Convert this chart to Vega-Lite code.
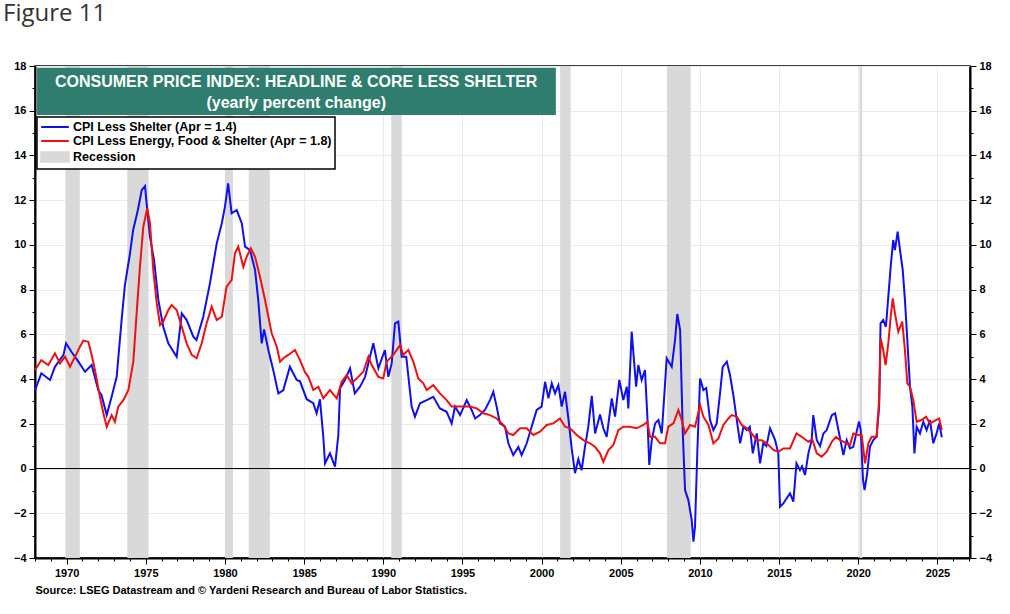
{
  "$schema": "https://vega.github.io/schema/vega-lite/v6.json",
  "autosize": "none",
  "width": 935,
  "height": 492,
  "padding": {"left": 35, "top": 66, "right": 40, "bottom": 56},
  "background": "white",
  "title": {"text": "Figure 11", "anchor": "start", "frame": "group", "dx": -32, "offset": 34, "fontSize": 24, "font": "Open Sans", "fontWeight": "normal", "color": "#333333"},
  "config": {
    "view": {"stroke": "black", "strokeWidth": 1.5},
    "axis": {"labelFont": "Liberation Sans", "labelFontWeight": "bold", "labelFontSize": 11, "labelColor": "black", "tickColor": "black", "domainColor": "black", "domainWidth": 2, "gridColor": "#ebebeb", "labelOverlap": false}
  },
  "datasets": {
    "rec": [
      {"start": 1969.92, "end": 1970.83},
      {"start": 1973.83, "end": 1975.17},
      {"start": 1980.0, "end": 1980.5},
      {"start": 1981.5, "end": 1982.83},
      {"start": 1990.5, "end": 1991.17},
      {"start": 2001.17, "end": 2001.83},
      {"start": 2007.92, "end": 2009.42},
      {"start": 2020.08, "end": 2020.25}
    ],
    "cpi": [
      {"s":"CPI Less Shelter (Apr = 1.4)","t":1968.0,"v":3.5},
      {"s":"CPI Less Shelter (Apr = 1.4)","t":1968.4,"v":4.26},
      {"s":"CPI Less Shelter (Apr = 1.4)","t":1968.95,"v":3.96},
      {"s":"CPI Less Shelter (Apr = 1.4)","t":1969.26,"v":4.55},
      {"s":"CPI Less Shelter (Apr = 1.4)","t":1969.8,"v":5.08},
      {"s":"CPI Less Shelter (Apr = 1.4)","t":1969.96,"v":5.6},
      {"s":"CPI Less Shelter (Apr = 1.4)","t":1970.3,"v":5.22},
      {"s":"CPI Less Shelter (Apr = 1.4)","t":1970.74,"v":4.78},
      {"s":"CPI Less Shelter (Apr = 1.4)","t":1971.16,"v":4.33},
      {"s":"CPI Less Shelter (Apr = 1.4)","t":1971.58,"v":4.63},
      {"s":"CPI Less Shelter (Apr = 1.4)","t":1972.0,"v":3.5},
      {"s":"CPI Less Shelter (Apr = 1.4)","t":1972.2,"v":3.29},
      {"s":"CPI Less Shelter (Apr = 1.4)","t":1972.53,"v":2.39},
      {"s":"CPI Less Shelter (Apr = 1.4)","t":1972.84,"v":3.21},
      {"s":"CPI Less Shelter (Apr = 1.4)","t":1973.16,"v":4.1},
      {"s":"CPI Less Shelter (Apr = 1.4)","t":1973.47,"v":6.64},
      {"s":"CPI Less Shelter (Apr = 1.4)","t":1973.68,"v":8.2},
      {"s":"CPI Less Shelter (Apr = 1.4)","t":1974.0,"v":9.62},
      {"s":"CPI Less Shelter (Apr = 1.4)","t":1974.2,"v":10.67},
      {"s":"CPI Less Shelter (Apr = 1.4)","t":1974.5,"v":11.56},
      {"s":"CPI Less Shelter (Apr = 1.4)","t":1974.74,"v":12.45},
      {"s":"CPI Less Shelter (Apr = 1.4)","t":1974.95,"v":12.63},
      {"s":"CPI Less Shelter (Apr = 1.4)","t":1975.05,"v":11.86},
      {"s":"CPI Less Shelter (Apr = 1.4)","t":1975.26,"v":10.37},
      {"s":"CPI Less Shelter (Apr = 1.4)","t":1975.52,"v":9.32},
      {"s":"CPI Less Shelter (Apr = 1.4)","t":1975.79,"v":7.54},
      {"s":"CPI Less Shelter (Apr = 1.4)","t":1976.1,"v":6.34},
      {"s":"CPI Less Shelter (Apr = 1.4)","t":1976.42,"v":5.6},
      {"s":"CPI Less Shelter (Apr = 1.4)","t":1976.95,"v":5.0},
      {"s":"CPI Less Shelter (Apr = 1.4)","t":1977.27,"v":6.94},
      {"s":"CPI Less Shelter (Apr = 1.4)","t":1977.58,"v":6.64},
      {"s":"CPI Less Shelter (Apr = 1.4)","t":1978.0,"v":5.9},
      {"s":"CPI Less Shelter (Apr = 1.4)","t":1978.2,"v":5.75},
      {"s":"CPI Less Shelter (Apr = 1.4)","t":1978.63,"v":6.79},
      {"s":"CPI Less Shelter (Apr = 1.4)","t":1979.05,"v":8.28},
      {"s":"CPI Less Shelter (Apr = 1.4)","t":1979.48,"v":10.07},
      {"s":"CPI Less Shelter (Apr = 1.4)","t":1979.8,"v":10.97},
      {"s":"CPI Less Shelter (Apr = 1.4)","t":1980.0,"v":11.71},
      {"s":"CPI Less Shelter (Apr = 1.4)","t":1980.2,"v":12.75},
      {"s":"CPI Less Shelter (Apr = 1.4)","t":1980.42,"v":11.41},
      {"s":"CPI Less Shelter (Apr = 1.4)","t":1980.74,"v":11.56},
      {"s":"CPI Less Shelter (Apr = 1.4)","t":1981.06,"v":10.97},
      {"s":"CPI Less Shelter (Apr = 1.4)","t":1981.27,"v":9.92},
      {"s":"CPI Less Shelter (Apr = 1.4)","t":1981.58,"v":9.77},
      {"s":"CPI Less Shelter (Apr = 1.4)","t":1981.9,"v":8.88},
      {"s":"CPI Less Shelter (Apr = 1.4)","t":1982.1,"v":7.54},
      {"s":"CPI Less Shelter (Apr = 1.4)","t":1982.32,"v":5.6},
      {"s":"CPI Less Shelter (Apr = 1.4)","t":1982.47,"v":6.22},
      {"s":"CPI Less Shelter (Apr = 1.4)","t":1982.74,"v":5.3},
      {"s":"CPI Less Shelter (Apr = 1.4)","t":1983.05,"v":4.4},
      {"s":"CPI Less Shelter (Apr = 1.4)","t":1983.37,"v":3.36},
      {"s":"CPI Less Shelter (Apr = 1.4)","t":1983.68,"v":3.5},
      {"s":"CPI Less Shelter (Apr = 1.4)","t":1984.1,"v":4.55},
      {"s":"CPI Less Shelter (Apr = 1.4)","t":1984.53,"v":3.96},
      {"s":"CPI Less Shelter (Apr = 1.4)","t":1984.74,"v":3.9},
      {"s":"CPI Less Shelter (Apr = 1.4)","t":1985.16,"v":3.1},
      {"s":"CPI Less Shelter (Apr = 1.4)","t":1985.58,"v":2.92},
      {"s":"CPI Less Shelter (Apr = 1.4)","t":1985.79,"v":2.47},
      {"s":"CPI Less Shelter (Apr = 1.4)","t":1986.0,"v":3.1},
      {"s":"CPI Less Shelter (Apr = 1.4)","t":1986.21,"v":1.42},
      {"s":"CPI Less Shelter (Apr = 1.4)","t":1986.32,"v":0.23},
      {"s":"CPI Less Shelter (Apr = 1.4)","t":1986.63,"v":0.68},
      {"s":"CPI Less Shelter (Apr = 1.4)","t":1986.95,"v":0.08},
      {"s":"CPI Less Shelter (Apr = 1.4)","t":1987.16,"v":1.5},
      {"s":"CPI Less Shelter (Apr = 1.4)","t":1987.27,"v":3.59},
      {"s":"CPI Less Shelter (Apr = 1.4)","t":1987.58,"v":3.96},
      {"s":"CPI Less Shelter (Apr = 1.4)","t":1987.9,"v":4.48},
      {"s":"CPI Less Shelter (Apr = 1.4)","t":1988.2,"v":3.36},
      {"s":"CPI Less Shelter (Apr = 1.4)","t":1988.53,"v":3.66},
      {"s":"CPI Less Shelter (Apr = 1.4)","t":1988.85,"v":4.1},
      {"s":"CPI Less Shelter (Apr = 1.4)","t":1989.16,"v":5.0},
      {"s":"CPI Less Shelter (Apr = 1.4)","t":1989.37,"v":5.6},
      {"s":"CPI Less Shelter (Apr = 1.4)","t":1989.69,"v":4.48},
      {"s":"CPI Less Shelter (Apr = 1.4)","t":1990.1,"v":5.3},
      {"s":"CPI Less Shelter (Apr = 1.4)","t":1990.32,"v":4.1},
      {"s":"CPI Less Shelter (Apr = 1.4)","t":1990.53,"v":4.7},
      {"s":"CPI Less Shelter (Apr = 1.4)","t":1990.74,"v":6.49},
      {"s":"CPI Less Shelter (Apr = 1.4)","t":1990.95,"v":6.57},
      {"s":"CPI Less Shelter (Apr = 1.4)","t":1991.16,"v":5.0},
      {"s":"CPI Less Shelter (Apr = 1.4)","t":1991.45,"v":5.0},
      {"s":"CPI Less Shelter (Apr = 1.4)","t":1991.79,"v":2.77},
      {"s":"CPI Less Shelter (Apr = 1.4)","t":1992.0,"v":2.32},
      {"s":"CPI Less Shelter (Apr = 1.4)","t":1992.32,"v":2.92},
      {"s":"CPI Less Shelter (Apr = 1.4)","t":1992.74,"v":3.06},
      {"s":"CPI Less Shelter (Apr = 1.4)","t":1993.16,"v":3.21},
      {"s":"CPI Less Shelter (Apr = 1.4)","t":1993.58,"v":2.69},
      {"s":"CPI Less Shelter (Apr = 1.4)","t":1994.0,"v":2.54},
      {"s":"CPI Less Shelter (Apr = 1.4)","t":1994.32,"v":2.02},
      {"s":"CPI Less Shelter (Apr = 1.4)","t":1994.53,"v":2.77},
      {"s":"CPI Less Shelter (Apr = 1.4)","t":1994.85,"v":2.39},
      {"s":"CPI Less Shelter (Apr = 1.4)","t":1995.27,"v":3.06},
      {"s":"CPI Less Shelter (Apr = 1.4)","t":1995.58,"v":2.62},
      {"s":"CPI Less Shelter (Apr = 1.4)","t":1995.8,"v":2.24},
      {"s":"CPI Less Shelter (Apr = 1.4)","t":1996.1,"v":2.39},
      {"s":"CPI Less Shelter (Apr = 1.4)","t":1996.42,"v":2.62},
      {"s":"CPI Less Shelter (Apr = 1.4)","t":1996.74,"v":3.06},
      {"s":"CPI Less Shelter (Apr = 1.4)","t":1996.95,"v":3.43},
      {"s":"CPI Less Shelter (Apr = 1.4)","t":1997.16,"v":2.77},
      {"s":"CPI Less Shelter (Apr = 1.4)","t":1997.37,"v":2.02},
      {"s":"CPI Less Shelter (Apr = 1.4)","t":1997.69,"v":1.87},
      {"s":"CPI Less Shelter (Apr = 1.4)","t":1997.9,"v":1.13},
      {"s":"CPI Less Shelter (Apr = 1.4)","t":1998.21,"v":0.6},
      {"s":"CPI Less Shelter (Apr = 1.4)","t":1998.53,"v":0.97},
      {"s":"CPI Less Shelter (Apr = 1.4)","t":1998.74,"v":0.6},
      {"s":"CPI Less Shelter (Apr = 1.4)","t":1999.06,"v":1.13},
      {"s":"CPI Less Shelter (Apr = 1.4)","t":1999.37,"v":1.87},
      {"s":"CPI Less Shelter (Apr = 1.4)","t":1999.69,"v":2.62},
      {"s":"CPI Less Shelter (Apr = 1.4)","t":2000.0,"v":2.77},
      {"s":"CPI Less Shelter (Apr = 1.4)","t":2000.22,"v":3.88},
      {"s":"CPI Less Shelter (Apr = 1.4)","t":2000.43,"v":3.14},
      {"s":"CPI Less Shelter (Apr = 1.4)","t":2000.64,"v":3.81},
      {"s":"CPI Less Shelter (Apr = 1.4)","t":2000.85,"v":3.36},
      {"s":"CPI Less Shelter (Apr = 1.4)","t":2001.06,"v":3.73},
      {"s":"CPI Less Shelter (Apr = 1.4)","t":2001.27,"v":2.77},
      {"s":"CPI Less Shelter (Apr = 1.4)","t":2001.48,"v":3.43},
      {"s":"CPI Less Shelter (Apr = 1.4)","t":2001.69,"v":2.24},
      {"s":"CPI Less Shelter (Apr = 1.4)","t":2001.9,"v":0.9},
      {"s":"CPI Less Shelter (Apr = 1.4)","t":2002.11,"v":-0.21},
      {"s":"CPI Less Shelter (Apr = 1.4)","t":2002.32,"v":0.42},
      {"s":"CPI Less Shelter (Apr = 1.4)","t":2002.53,"v":-0.07},
      {"s":"CPI Less Shelter (Apr = 1.4)","t":2002.74,"v":0.97},
      {"s":"CPI Less Shelter (Apr = 1.4)","t":2002.95,"v":1.87},
      {"s":"CPI Less Shelter (Apr = 1.4)","t":2003.17,"v":3.25},
      {"s":"CPI Less Shelter (Apr = 1.4)","t":2003.38,"v":1.57},
      {"s":"CPI Less Shelter (Apr = 1.4)","t":2003.69,"v":2.42},
      {"s":"CPI Less Shelter (Apr = 1.4)","t":2003.9,"v":1.8},
      {"s":"CPI Less Shelter (Apr = 1.4)","t":2004.11,"v":1.42},
      {"s":"CPI Less Shelter (Apr = 1.4)","t":2004.43,"v":3.14},
      {"s":"CPI Less Shelter (Apr = 1.4)","t":2004.64,"v":2.32},
      {"s":"CPI Less Shelter (Apr = 1.4)","t":2004.91,"v":3.96},
      {"s":"CPI Less Shelter (Apr = 1.4)","t":2005.16,"v":3.06},
      {"s":"CPI Less Shelter (Apr = 1.4)","t":2005.38,"v":3.66},
      {"s":"CPI Less Shelter (Apr = 1.4)","t":2005.48,"v":2.69},
      {"s":"CPI Less Shelter (Apr = 1.4)","t":2005.69,"v":6.12},
      {"s":"CPI Less Shelter (Apr = 1.4)","t":2005.97,"v":3.66},
      {"s":"CPI Less Shelter (Apr = 1.4)","t":2006.11,"v":4.63},
      {"s":"CPI Less Shelter (Apr = 1.4)","t":2006.32,"v":3.96},
      {"s":"CPI Less Shelter (Apr = 1.4)","t":2006.53,"v":4.4},
      {"s":"CPI Less Shelter (Apr = 1.4)","t":2006.68,"v":2.32},
      {"s":"CPI Less Shelter (Apr = 1.4)","t":2006.8,"v":0.16},
      {"s":"CPI Less Shelter (Apr = 1.4)","t":2006.96,"v":1.27},
      {"s":"CPI Less Shelter (Apr = 1.4)","t":2007.17,"v":2.02},
      {"s":"CPI Less Shelter (Apr = 1.4)","t":2007.38,"v":2.17},
      {"s":"CPI Less Shelter (Apr = 1.4)","t":2007.59,"v":1.57},
      {"s":"CPI Less Shelter (Apr = 1.4)","t":2007.8,"v":3.81},
      {"s":"CPI Less Shelter (Apr = 1.4)","t":2007.9,"v":4.93},
      {"s":"CPI Less Shelter (Apr = 1.4)","t":2008.22,"v":4.55},
      {"s":"CPI Less Shelter (Apr = 1.4)","t":2008.43,"v":5.75},
      {"s":"CPI Less Shelter (Apr = 1.4)","t":2008.57,"v":6.91},
      {"s":"CPI Less Shelter (Apr = 1.4)","t":2008.75,"v":6.19},
      {"s":"CPI Less Shelter (Apr = 1.4)","t":2008.92,"v":1.57},
      {"s":"CPI Less Shelter (Apr = 1.4)","t":2009.06,"v":-0.96},
      {"s":"CPI Less Shelter (Apr = 1.4)","t":2009.27,"v":-1.41},
      {"s":"CPI Less Shelter (Apr = 1.4)","t":2009.48,"v":-2.3},
      {"s":"CPI Less Shelter (Apr = 1.4)","t":2009.59,"v":-3.27},
      {"s":"CPI Less Shelter (Apr = 1.4)","t":2009.69,"v":-2.6},
      {"s":"CPI Less Shelter (Apr = 1.4)","t":2009.84,"v":0.83},
      {"s":"CPI Less Shelter (Apr = 1.4)","t":2010.01,"v":4.03},
      {"s":"CPI Less Shelter (Apr = 1.4)","t":2010.22,"v":3.51},
      {"s":"CPI Less Shelter (Apr = 1.4)","t":2010.4,"v":3.6},
      {"s":"CPI Less Shelter (Apr = 1.4)","t":2010.64,"v":2.17},
      {"s":"CPI Less Shelter (Apr = 1.4)","t":2010.85,"v":1.72},
      {"s":"CPI Less Shelter (Apr = 1.4)","t":2011.06,"v":2.02},
      {"s":"CPI Less Shelter (Apr = 1.4)","t":2011.27,"v":3.36},
      {"s":"CPI Less Shelter (Apr = 1.4)","t":2011.44,"v":4.55},
      {"s":"CPI Less Shelter (Apr = 1.4)","t":2011.7,"v":4.78},
      {"s":"CPI Less Shelter (Apr = 1.4)","t":2011.9,"v":4.18},
      {"s":"CPI Less Shelter (Apr = 1.4)","t":2012.11,"v":3.29},
      {"s":"CPI Less Shelter (Apr = 1.4)","t":2012.33,"v":2.17},
      {"s":"CPI Less Shelter (Apr = 1.4)","t":2012.54,"v":1.13},
      {"s":"CPI Less Shelter (Apr = 1.4)","t":2012.75,"v":1.87},
      {"s":"CPI Less Shelter (Apr = 1.4)","t":2012.96,"v":1.72},
      {"s":"CPI Less Shelter (Apr = 1.4)","t":2013.15,"v":1.87},
      {"s":"CPI Less Shelter (Apr = 1.4)","t":2013.34,"v":0.68},
      {"s":"CPI Less Shelter (Apr = 1.4)","t":2013.59,"v":1.57},
      {"s":"CPI Less Shelter (Apr = 1.4)","t":2013.8,"v":0.23},
      {"s":"CPI Less Shelter (Apr = 1.4)","t":2014.0,"v":1.13},
      {"s":"CPI Less Shelter (Apr = 1.4)","t":2014.2,"v":1.0},
      {"s":"CPI Less Shelter (Apr = 1.4)","t":2014.43,"v":1.8},
      {"s":"CPI Less Shelter (Apr = 1.4)","t":2014.75,"v":1.27},
      {"s":"CPI Less Shelter (Apr = 1.4)","t":2014.95,"v":0.68},
      {"s":"CPI Less Shelter (Apr = 1.4)","t":2015.06,"v":-1.71},
      {"s":"CPI Less Shelter (Apr = 1.4)","t":2015.27,"v":-1.56},
      {"s":"CPI Less Shelter (Apr = 1.4)","t":2015.48,"v":-1.33},
      {"s":"CPI Less Shelter (Apr = 1.4)","t":2015.69,"v":-1.11},
      {"s":"CPI Less Shelter (Apr = 1.4)","t":2015.9,"v":-1.48},
      {"s":"CPI Less Shelter (Apr = 1.4)","t":2016.1,"v":0.23},
      {"s":"CPI Less Shelter (Apr = 1.4)","t":2016.32,"v":-0.07},
      {"s":"CPI Less Shelter (Apr = 1.4)","t":2016.45,"v":0.1},
      {"s":"CPI Less Shelter (Apr = 1.4)","t":2016.64,"v":-0.29},
      {"s":"CPI Less Shelter (Apr = 1.4)","t":2016.85,"v":0.68},
      {"s":"CPI Less Shelter (Apr = 1.4)","t":2017.06,"v":1.27},
      {"s":"CPI Less Shelter (Apr = 1.4)","t":2017.16,"v":2.39},
      {"s":"CPI Less Shelter (Apr = 1.4)","t":2017.38,"v":1.27},
      {"s":"CPI Less Shelter (Apr = 1.4)","t":2017.59,"v":1.0},
      {"s":"CPI Less Shelter (Apr = 1.4)","t":2017.8,"v":1.57},
      {"s":"CPI Less Shelter (Apr = 1.4)","t":2018.01,"v":1.72},
      {"s":"CPI Less Shelter (Apr = 1.4)","t":2018.33,"v":2.39},
      {"s":"CPI Less Shelter (Apr = 1.4)","t":2018.54,"v":2.47},
      {"s":"CPI Less Shelter (Apr = 1.4)","t":2018.75,"v":1.72},
      {"s":"CPI Less Shelter (Apr = 1.4)","t":2019.06,"v":0.6},
      {"s":"CPI Less Shelter (Apr = 1.4)","t":2019.27,"v":1.27},
      {"s":"CPI Less Shelter (Apr = 1.4)","t":2019.48,"v":0.9},
      {"s":"CPI Less Shelter (Apr = 1.4)","t":2019.69,"v":0.97},
      {"s":"CPI Less Shelter (Apr = 1.4)","t":2019.9,"v":1.65},
      {"s":"CPI Less Shelter (Apr = 1.4)","t":2020.05,"v":2.1},
      {"s":"CPI Less Shelter (Apr = 1.4)","t":2020.16,"v":1.72},
      {"s":"CPI Less Shelter (Apr = 1.4)","t":2020.3,"v":-0.5},
      {"s":"CPI Less Shelter (Apr = 1.4)","t":2020.4,"v":-0.96},
      {"s":"CPI Less Shelter (Apr = 1.4)","t":2020.55,"v":-0.3},
      {"s":"CPI Less Shelter (Apr = 1.4)","t":2020.74,"v":0.97},
      {"s":"CPI Less Shelter (Apr = 1.4)","t":2020.95,"v":1.27},
      {"s":"CPI Less Shelter (Apr = 1.4)","t":2021.16,"v":1.42},
      {"s":"CPI Less Shelter (Apr = 1.4)","t":2021.32,"v":2.77},
      {"s":"CPI Less Shelter (Apr = 1.4)","t":2021.41,"v":6.49},
      {"s":"CPI Less Shelter (Apr = 1.4)","t":2021.58,"v":6.64},
      {"s":"CPI Less Shelter (Apr = 1.4)","t":2021.75,"v":6.34},
      {"s":"CPI Less Shelter (Apr = 1.4)","t":2021.9,"v":7.69},
      {"s":"CPI Less Shelter (Apr = 1.4)","t":2022.05,"v":9.03},
      {"s":"CPI Less Shelter (Apr = 1.4)","t":2022.21,"v":10.22},
      {"s":"CPI Less Shelter (Apr = 1.4)","t":2022.32,"v":9.77},
      {"s":"CPI Less Shelter (Apr = 1.4)","t":2022.49,"v":10.59},
      {"s":"CPI Less Shelter (Apr = 1.4)","t":2022.64,"v":9.77},
      {"s":"CPI Less Shelter (Apr = 1.4)","t":2022.81,"v":8.88},
      {"s":"CPI Less Shelter (Apr = 1.4)","t":2022.95,"v":7.54},
      {"s":"CPI Less Shelter (Apr = 1.4)","t":2023.1,"v":5.75},
      {"s":"CPI Less Shelter (Apr = 1.4)","t":2023.27,"v":3.66},
      {"s":"CPI Less Shelter (Apr = 1.4)","t":2023.42,"v":2.77},
      {"s":"CPI Less Shelter (Apr = 1.4)","t":2023.55,"v":0.68},
      {"s":"CPI Less Shelter (Apr = 1.4)","t":2023.69,"v":1.87},
      {"s":"CPI Less Shelter (Apr = 1.4)","t":2023.9,"v":1.57},
      {"s":"CPI Less Shelter (Apr = 1.4)","t":2024.11,"v":2.09},
      {"s":"CPI Less Shelter (Apr = 1.4)","t":2024.32,"v":1.72},
      {"s":"CPI Less Shelter (Apr = 1.4)","t":2024.53,"v":2.17},
      {"s":"CPI Less Shelter (Apr = 1.4)","t":2024.74,"v":1.13},
      {"s":"CPI Less Shelter (Apr = 1.4)","t":2024.95,"v":1.57},
      {"s":"CPI Less Shelter (Apr = 1.4)","t":2025.11,"v":2.02},
      {"s":"CPI Less Shelter (Apr = 1.4)","t":2025.28,"v":1.4},
      {"s":"CPI Less Energy, Food & Shelter (Apr = 1.8)","t":1968.0,"v":4.4},
      {"s":"CPI Less Energy, Food & Shelter (Apr = 1.8)","t":1968.4,"v":4.85},
      {"s":"CPI Less Energy, Food & Shelter (Apr = 1.8)","t":1968.84,"v":4.63},
      {"s":"CPI Less Energy, Food & Shelter (Apr = 1.8)","t":1969.26,"v":5.15},
      {"s":"CPI Less Energy, Food & Shelter (Apr = 1.8)","t":1969.58,"v":4.7},
      {"s":"CPI Less Energy, Food & Shelter (Apr = 1.8)","t":1969.9,"v":5.0},
      {"s":"CPI Less Energy, Food & Shelter (Apr = 1.8)","t":1970.21,"v":4.55},
      {"s":"CPI Less Energy, Food & Shelter (Apr = 1.8)","t":1970.53,"v":5.0},
      {"s":"CPI Less Energy, Food & Shelter (Apr = 1.8)","t":1970.84,"v":5.45},
      {"s":"CPI Less Energy, Food & Shelter (Apr = 1.8)","t":1971.05,"v":5.72},
      {"s":"CPI Less Energy, Food & Shelter (Apr = 1.8)","t":1971.37,"v":5.67},
      {"s":"CPI Less Energy, Food & Shelter (Apr = 1.8)","t":1971.58,"v":5.08},
      {"s":"CPI Less Energy, Food & Shelter (Apr = 1.8)","t":1971.79,"v":4.4},
      {"s":"CPI Less Energy, Food & Shelter (Apr = 1.8)","t":1972.1,"v":3.21},
      {"s":"CPI Less Energy, Food & Shelter (Apr = 1.8)","t":1972.32,"v":2.47},
      {"s":"CPI Less Energy, Food & Shelter (Apr = 1.8)","t":1972.53,"v":1.87},
      {"s":"CPI Less Energy, Food & Shelter (Apr = 1.8)","t":1972.84,"v":2.39},
      {"s":"CPI Less Energy, Food & Shelter (Apr = 1.8)","t":1973.05,"v":2.09},
      {"s":"CPI Less Energy, Food & Shelter (Apr = 1.8)","t":1973.26,"v":2.77},
      {"s":"CPI Less Energy, Food & Shelter (Apr = 1.8)","t":1973.58,"v":3.06},
      {"s":"CPI Less Energy, Food & Shelter (Apr = 1.8)","t":1973.9,"v":3.51},
      {"s":"CPI Less Energy, Food & Shelter (Apr = 1.8)","t":1974.21,"v":4.78},
      {"s":"CPI Less Energy, Food & Shelter (Apr = 1.8)","t":1974.42,"v":6.94},
      {"s":"CPI Less Energy, Food & Shelter (Apr = 1.8)","t":1974.63,"v":9.03},
      {"s":"CPI Less Energy, Food & Shelter (Apr = 1.8)","t":1974.84,"v":10.81},
      {"s":"CPI Less Energy, Food & Shelter (Apr = 1.8)","t":1975.09,"v":11.64},
      {"s":"CPI Less Energy, Food & Shelter (Apr = 1.8)","t":1975.26,"v":10.97},
      {"s":"CPI Less Energy, Food & Shelter (Apr = 1.8)","t":1975.47,"v":8.88},
      {"s":"CPI Less Energy, Food & Shelter (Apr = 1.8)","t":1975.69,"v":7.39},
      {"s":"CPI Less Energy, Food & Shelter (Apr = 1.8)","t":1975.9,"v":6.42},
      {"s":"CPI Less Energy, Food & Shelter (Apr = 1.8)","t":1976.1,"v":6.57},
      {"s":"CPI Less Energy, Food & Shelter (Apr = 1.8)","t":1976.42,"v":7.09},
      {"s":"CPI Less Energy, Food & Shelter (Apr = 1.8)","t":1976.63,"v":7.31},
      {"s":"CPI Less Energy, Food & Shelter (Apr = 1.8)","t":1976.95,"v":7.09},
      {"s":"CPI Less Energy, Food & Shelter (Apr = 1.8)","t":1977.27,"v":6.34},
      {"s":"CPI Less Energy, Food & Shelter (Apr = 1.8)","t":1977.58,"v":5.6},
      {"s":"CPI Less Energy, Food & Shelter (Apr = 1.8)","t":1977.9,"v":5.08},
      {"s":"CPI Less Energy, Food & Shelter (Apr = 1.8)","t":1978.21,"v":4.93},
      {"s":"CPI Less Energy, Food & Shelter (Apr = 1.8)","t":1978.53,"v":5.6},
      {"s":"CPI Less Energy, Food & Shelter (Apr = 1.8)","t":1978.84,"v":6.49},
      {"s":"CPI Less Energy, Food & Shelter (Apr = 1.8)","t":1979.16,"v":7.24},
      {"s":"CPI Less Energy, Food & Shelter (Apr = 1.8)","t":1979.48,"v":6.64},
      {"s":"CPI Less Energy, Food & Shelter (Apr = 1.8)","t":1979.8,"v":6.79},
      {"s":"CPI Less Energy, Food & Shelter (Apr = 1.8)","t":1980.1,"v":8.13},
      {"s":"CPI Less Energy, Food & Shelter (Apr = 1.8)","t":1980.42,"v":8.43},
      {"s":"CPI Less Energy, Food & Shelter (Apr = 1.8)","t":1980.63,"v":9.62},
      {"s":"CPI Less Energy, Food & Shelter (Apr = 1.8)","t":1980.84,"v":9.92},
      {"s":"CPI Less Energy, Food & Shelter (Apr = 1.8)","t":1981.16,"v":9.02},
      {"s":"CPI Less Energy, Food & Shelter (Apr = 1.8)","t":1981.37,"v":9.47},
      {"s":"CPI Less Energy, Food & Shelter (Apr = 1.8)","t":1981.63,"v":9.85},
      {"s":"CPI Less Energy, Food & Shelter (Apr = 1.8)","t":1981.9,"v":9.47},
      {"s":"CPI Less Energy, Food & Shelter (Apr = 1.8)","t":1982.21,"v":8.58},
      {"s":"CPI Less Energy, Food & Shelter (Apr = 1.8)","t":1982.53,"v":7.54},
      {"s":"CPI Less Energy, Food & Shelter (Apr = 1.8)","t":1982.74,"v":6.79},
      {"s":"CPI Less Energy, Food & Shelter (Apr = 1.8)","t":1982.95,"v":6.05},
      {"s":"CPI Less Energy, Food & Shelter (Apr = 1.8)","t":1983.27,"v":5.45},
      {"s":"CPI Less Energy, Food & Shelter (Apr = 1.8)","t":1983.48,"v":4.78},
      {"s":"CPI Less Energy, Food & Shelter (Apr = 1.8)","t":1983.69,"v":4.93},
      {"s":"CPI Less Energy, Food & Shelter (Apr = 1.8)","t":1984.0,"v":5.08},
      {"s":"CPI Less Energy, Food & Shelter (Apr = 1.8)","t":1984.42,"v":5.3},
      {"s":"CPI Less Energy, Food & Shelter (Apr = 1.8)","t":1984.74,"v":4.85},
      {"s":"CPI Less Energy, Food & Shelter (Apr = 1.8)","t":1985.06,"v":4.3},
      {"s":"CPI Less Energy, Food & Shelter (Apr = 1.8)","t":1985.27,"v":4.1},
      {"s":"CPI Less Energy, Food & Shelter (Apr = 1.8)","t":1985.58,"v":3.51},
      {"s":"CPI Less Energy, Food & Shelter (Apr = 1.8)","t":1985.9,"v":3.66},
      {"s":"CPI Less Energy, Food & Shelter (Apr = 1.8)","t":1986.21,"v":3.14},
      {"s":"CPI Less Energy, Food & Shelter (Apr = 1.8)","t":1986.63,"v":3.51},
      {"s":"CPI Less Energy, Food & Shelter (Apr = 1.8)","t":1987.06,"v":3.14},
      {"s":"CPI Less Energy, Food & Shelter (Apr = 1.8)","t":1987.37,"v":3.88},
      {"s":"CPI Less Energy, Food & Shelter (Apr = 1.8)","t":1987.69,"v":4.18},
      {"s":"CPI Less Energy, Food & Shelter (Apr = 1.8)","t":1988.0,"v":3.81},
      {"s":"CPI Less Energy, Food & Shelter (Apr = 1.8)","t":1988.42,"v":4.1},
      {"s":"CPI Less Energy, Food & Shelter (Apr = 1.8)","t":1988.74,"v":4.33},
      {"s":"CPI Less Energy, Food & Shelter (Apr = 1.8)","t":1989.06,"v":5.0},
      {"s":"CPI Less Energy, Food & Shelter (Apr = 1.8)","t":1989.27,"v":4.63},
      {"s":"CPI Less Energy, Food & Shelter (Apr = 1.8)","t":1989.69,"v":4.1},
      {"s":"CPI Less Energy, Food & Shelter (Apr = 1.8)","t":1990.0,"v":4.03},
      {"s":"CPI Less Energy, Food & Shelter (Apr = 1.8)","t":1990.21,"v":4.78},
      {"s":"CPI Less Energy, Food & Shelter (Apr = 1.8)","t":1990.63,"v":5.08},
      {"s":"CPI Less Energy, Food & Shelter (Apr = 1.8)","t":1991.06,"v":5.52},
      {"s":"CPI Less Energy, Food & Shelter (Apr = 1.8)","t":1991.27,"v":5.08},
      {"s":"CPI Less Energy, Food & Shelter (Apr = 1.8)","t":1991.58,"v":5.3},
      {"s":"CPI Less Energy, Food & Shelter (Apr = 1.8)","t":1991.9,"v":4.78},
      {"s":"CPI Less Energy, Food & Shelter (Apr = 1.8)","t":1992.21,"v":4.03},
      {"s":"CPI Less Energy, Food & Shelter (Apr = 1.8)","t":1992.53,"v":3.81},
      {"s":"CPI Less Energy, Food & Shelter (Apr = 1.8)","t":1992.74,"v":3.51},
      {"s":"CPI Less Energy, Food & Shelter (Apr = 1.8)","t":1993.16,"v":3.73},
      {"s":"CPI Less Energy, Food & Shelter (Apr = 1.8)","t":1993.58,"v":3.36},
      {"s":"CPI Less Energy, Food & Shelter (Apr = 1.8)","t":1994.0,"v":3.06},
      {"s":"CPI Less Energy, Food & Shelter (Apr = 1.8)","t":1994.32,"v":2.77},
      {"s":"CPI Less Energy, Food & Shelter (Apr = 1.8)","t":1994.74,"v":2.77},
      {"s":"CPI Less Energy, Food & Shelter (Apr = 1.8)","t":1995.06,"v":2.77},
      {"s":"CPI Less Energy, Food & Shelter (Apr = 1.8)","t":1995.48,"v":2.77},
      {"s":"CPI Less Energy, Food & Shelter (Apr = 1.8)","t":1995.9,"v":2.69},
      {"s":"CPI Less Energy, Food & Shelter (Apr = 1.8)","t":1996.32,"v":2.47},
      {"s":"CPI Less Energy, Food & Shelter (Apr = 1.8)","t":1996.74,"v":2.39},
      {"s":"CPI Less Energy, Food & Shelter (Apr = 1.8)","t":1997.16,"v":2.24},
      {"s":"CPI Less Energy, Food & Shelter (Apr = 1.8)","t":1997.58,"v":1.95},
      {"s":"CPI Less Energy, Food & Shelter (Apr = 1.8)","t":1997.9,"v":1.57},
      {"s":"CPI Less Energy, Food & Shelter (Apr = 1.8)","t":1998.21,"v":1.5},
      {"s":"CPI Less Energy, Food & Shelter (Apr = 1.8)","t":1998.64,"v":1.8},
      {"s":"CPI Less Energy, Food & Shelter (Apr = 1.8)","t":1999.06,"v":1.8},
      {"s":"CPI Less Energy, Food & Shelter (Apr = 1.8)","t":1999.48,"v":1.5},
      {"s":"CPI Less Energy, Food & Shelter (Apr = 1.8)","t":1999.9,"v":1.65},
      {"s":"CPI Less Energy, Food & Shelter (Apr = 1.8)","t":2000.32,"v":1.95},
      {"s":"CPI Less Energy, Food & Shelter (Apr = 1.8)","t":2000.74,"v":2.02},
      {"s":"CPI Less Energy, Food & Shelter (Apr = 1.8)","t":2001.16,"v":2.24},
      {"s":"CPI Less Energy, Food & Shelter (Apr = 1.8)","t":2001.48,"v":1.87},
      {"s":"CPI Less Energy, Food & Shelter (Apr = 1.8)","t":2001.8,"v":1.8},
      {"s":"CPI Less Energy, Food & Shelter (Apr = 1.8)","t":2002.22,"v":1.5},
      {"s":"CPI Less Energy, Food & Shelter (Apr = 1.8)","t":2002.64,"v":1.27},
      {"s":"CPI Less Energy, Food & Shelter (Apr = 1.8)","t":2003.06,"v":1.13},
      {"s":"CPI Less Energy, Food & Shelter (Apr = 1.8)","t":2003.38,"v":0.97},
      {"s":"CPI Less Energy, Food & Shelter (Apr = 1.8)","t":2003.69,"v":0.68},
      {"s":"CPI Less Energy, Food & Shelter (Apr = 1.8)","t":2003.9,"v":0.3},
      {"s":"CPI Less Energy, Food & Shelter (Apr = 1.8)","t":2004.22,"v":0.83},
      {"s":"CPI Less Energy, Food & Shelter (Apr = 1.8)","t":2004.53,"v":1.05},
      {"s":"CPI Less Energy, Food & Shelter (Apr = 1.8)","t":2004.85,"v":1.72},
      {"s":"CPI Less Energy, Food & Shelter (Apr = 1.8)","t":2005.16,"v":1.87},
      {"s":"CPI Less Energy, Food & Shelter (Apr = 1.8)","t":2005.58,"v":1.87},
      {"s":"CPI Less Energy, Food & Shelter (Apr = 1.8)","t":2006.0,"v":1.8},
      {"s":"CPI Less Energy, Food & Shelter (Apr = 1.8)","t":2006.43,"v":1.95},
      {"s":"CPI Less Energy, Food & Shelter (Apr = 1.8)","t":2006.68,"v":2.09},
      {"s":"CPI Less Energy, Food & Shelter (Apr = 1.8)","t":2006.85,"v":1.42},
      {"s":"CPI Less Energy, Food & Shelter (Apr = 1.8)","t":2007.17,"v":1.42},
      {"s":"CPI Less Energy, Food & Shelter (Apr = 1.8)","t":2007.48,"v":1.13},
      {"s":"CPI Less Energy, Food & Shelter (Apr = 1.8)","t":2007.8,"v":1.13},
      {"s":"CPI Less Energy, Food & Shelter (Apr = 1.8)","t":2008.0,"v":1.87},
      {"s":"CPI Less Energy, Food & Shelter (Apr = 1.8)","t":2008.33,"v":2.02},
      {"s":"CPI Less Energy, Food & Shelter (Apr = 1.8)","t":2008.64,"v":2.62},
      {"s":"CPI Less Energy, Food & Shelter (Apr = 1.8)","t":2008.85,"v":2.17},
      {"s":"CPI Less Energy, Food & Shelter (Apr = 1.8)","t":2009.06,"v":1.57},
      {"s":"CPI Less Energy, Food & Shelter (Apr = 1.8)","t":2009.38,"v":1.95},
      {"s":"CPI Less Energy, Food & Shelter (Apr = 1.8)","t":2009.69,"v":1.87},
      {"s":"CPI Less Energy, Food & Shelter (Apr = 1.8)","t":2010.01,"v":2.84},
      {"s":"CPI Less Energy, Food & Shelter (Apr = 1.8)","t":2010.22,"v":2.32},
      {"s":"CPI Less Energy, Food & Shelter (Apr = 1.8)","t":2010.54,"v":1.95},
      {"s":"CPI Less Energy, Food & Shelter (Apr = 1.8)","t":2010.85,"v":1.13},
      {"s":"CPI Less Energy, Food & Shelter (Apr = 1.8)","t":2011.17,"v":1.35},
      {"s":"CPI Less Energy, Food & Shelter (Apr = 1.8)","t":2011.48,"v":1.95},
      {"s":"CPI Less Energy, Food & Shelter (Apr = 1.8)","t":2011.8,"v":2.24},
      {"s":"CPI Less Energy, Food & Shelter (Apr = 1.8)","t":2012.0,"v":2.39},
      {"s":"CPI Less Energy, Food & Shelter (Apr = 1.8)","t":2012.33,"v":2.32},
      {"s":"CPI Less Energy, Food & Shelter (Apr = 1.8)","t":2012.64,"v":1.95},
      {"s":"CPI Less Energy, Food & Shelter (Apr = 1.8)","t":2012.96,"v":1.8},
      {"s":"CPI Less Energy, Food & Shelter (Apr = 1.8)","t":2013.27,"v":1.57},
      {"s":"CPI Less Energy, Food & Shelter (Apr = 1.8)","t":2013.59,"v":1.27},
      {"s":"CPI Less Energy, Food & Shelter (Apr = 1.8)","t":2013.9,"v":1.27},
      {"s":"CPI Less Energy, Food & Shelter (Apr = 1.8)","t":2014.22,"v":1.13},
      {"s":"CPI Less Energy, Food & Shelter (Apr = 1.8)","t":2014.64,"v":0.83},
      {"s":"CPI Less Energy, Food & Shelter (Apr = 1.8)","t":2014.95,"v":0.75},
      {"s":"CPI Less Energy, Food & Shelter (Apr = 1.8)","t":2015.27,"v":0.9},
      {"s":"CPI Less Energy, Food & Shelter (Apr = 1.8)","t":2015.69,"v":0.9},
      {"s":"CPI Less Energy, Food & Shelter (Apr = 1.8)","t":2016.1,"v":1.57},
      {"s":"CPI Less Energy, Food & Shelter (Apr = 1.8)","t":2016.43,"v":1.42},
      {"s":"CPI Less Energy, Food & Shelter (Apr = 1.8)","t":2016.85,"v":1.2},
      {"s":"CPI Less Energy, Food & Shelter (Apr = 1.8)","t":2017.1,"v":1.3},
      {"s":"CPI Less Energy, Food & Shelter (Apr = 1.8)","t":2017.38,"v":0.68},
      {"s":"CPI Less Energy, Food & Shelter (Apr = 1.8)","t":2017.69,"v":0.53},
      {"s":"CPI Less Energy, Food & Shelter (Apr = 1.8)","t":2018.01,"v":0.75},
      {"s":"CPI Less Energy, Food & Shelter (Apr = 1.8)","t":2018.33,"v":1.2},
      {"s":"CPI Less Energy, Food & Shelter (Apr = 1.8)","t":2018.6,"v":1.42},
      {"s":"CPI Less Energy, Food & Shelter (Apr = 1.8)","t":2018.85,"v":1.27},
      {"s":"CPI Less Energy, Food & Shelter (Apr = 1.8)","t":2019.06,"v":1.2},
      {"s":"CPI Less Energy, Food & Shelter (Apr = 1.8)","t":2019.48,"v":1.05},
      {"s":"CPI Less Energy, Food & Shelter (Apr = 1.8)","t":2019.69,"v":1.57},
      {"s":"CPI Less Energy, Food & Shelter (Apr = 1.8)","t":2020.01,"v":1.5},
      {"s":"CPI Less Energy, Food & Shelter (Apr = 1.8)","t":2020.22,"v":1.5},
      {"s":"CPI Less Energy, Food & Shelter (Apr = 1.8)","t":2020.43,"v":0.23},
      {"s":"CPI Less Energy, Food & Shelter (Apr = 1.8)","t":2020.64,"v":1.13},
      {"s":"CPI Less Energy, Food & Shelter (Apr = 1.8)","t":2020.85,"v":1.42},
      {"s":"CPI Less Energy, Food & Shelter (Apr = 1.8)","t":2021.16,"v":1.42},
      {"s":"CPI Less Energy, Food & Shelter (Apr = 1.8)","t":2021.32,"v":3.06},
      {"s":"CPI Less Energy, Food & Shelter (Apr = 1.8)","t":2021.42,"v":5.82},
      {"s":"CPI Less Energy, Food & Shelter (Apr = 1.8)","t":2021.58,"v":5.3},
      {"s":"CPI Less Energy, Food & Shelter (Apr = 1.8)","t":2021.73,"v":4.63},
      {"s":"CPI Less Energy, Food & Shelter (Apr = 1.8)","t":2021.9,"v":5.6},
      {"s":"CPI Less Energy, Food & Shelter (Apr = 1.8)","t":2022.05,"v":6.79},
      {"s":"CPI Less Energy, Food & Shelter (Apr = 1.8)","t":2022.18,"v":7.61},
      {"s":"CPI Less Energy, Food & Shelter (Apr = 1.8)","t":2022.32,"v":6.94},
      {"s":"CPI Less Energy, Food & Shelter (Apr = 1.8)","t":2022.53,"v":6.12},
      {"s":"CPI Less Energy, Food & Shelter (Apr = 1.8)","t":2022.78,"v":6.57},
      {"s":"CPI Less Energy, Food & Shelter (Apr = 1.8)","t":2022.95,"v":5.3},
      {"s":"CPI Less Energy, Food & Shelter (Apr = 1.8)","t":2023.1,"v":3.81},
      {"s":"CPI Less Energy, Food & Shelter (Apr = 1.8)","t":2023.27,"v":3.66},
      {"s":"CPI Less Energy, Food & Shelter (Apr = 1.8)","t":2023.48,"v":3.06},
      {"s":"CPI Less Energy, Food & Shelter (Apr = 1.8)","t":2023.69,"v":2.09},
      {"s":"CPI Less Energy, Food & Shelter (Apr = 1.8)","t":2024.0,"v":2.17},
      {"s":"CPI Less Energy, Food & Shelter (Apr = 1.8)","t":2024.28,"v":2.32},
      {"s":"CPI Less Energy, Food & Shelter (Apr = 1.8)","t":2024.53,"v":2.02},
      {"s":"CPI Less Energy, Food & Shelter (Apr = 1.8)","t":2024.91,"v":2.17},
      {"s":"CPI Less Energy, Food & Shelter (Apr = 1.8)","t":2025.11,"v":2.24},
      {"s":"CPI Less Energy, Food & Shelter (Apr = 1.8)","t":2025.28,"v":1.72}
    ]
  },
  "layer": [
    {
      "layer": [
        {
          "data": {"name": "rec"},
          "mark": {"type": "rect", "color": "#d9d9d9"},
          "encoding": {
            "x": {"field": "start", "type": "quantitative", "scale": {"domain": [1968, 2027.06], "nice": false, "zero": false},
              "axis": {"values": [1968,1969,1970,1971,1972,1973,1974,1975,1976,1977,1978,1979,1980,1981,1982,1983,1984,1985,1986,1987,1988,1989,1990,1991,1992,1993,1994,1995,1996,1997,1998,1999,2000,2001,2002,2003,2004,2005,2006,2007,2008,2009,2010,2011,2012,2013,2014,2015,2016,2017,2018,2019,2020,2021,2022,2023,2024,2025,2026,2027],
                "format": "d", "labelOverlap": false, "labelFlush": false,
                "labelExpr": "datum.value % 5 === 0 ? datum.label : ''",
                "tickSize": {"condition": {"test": "datum.value % 5 === 0", "value": 6}, "value": 3},
                "gridOpacity": {"condition": {"test": "datum.value % 5 === 0", "value": 1}, "value": 0},
                "grid": true, "labelPadding": 3,
                "title": "Source: LSEG Datastream and © Yardeni Research and Bureau of Labor Statistics.",
                "titleAnchor": "start", "titleAlign": "left", "titleFont": "Liberation Sans", "titleFontWeight": "bold", "titleFontSize": 11, "titleColor": "black", "titlePadding": 6}},
            "x2": {"field": "end"}
          }
        },
        {
          "data": {"values": [{}]},
          "mark": {"type": "rect", "color": "#2e7d6e"},
          "encoding": {
            "x": {"datum": 1968.13, "type": "quantitative",
              "axis": {"values": [1968,1969,1970,1971,1972,1973,1974,1975,1976,1977,1978,1979,1980,1981,1982,1983,1984,1985,1986,1987,1988,1989,1990,1991,1992,1993,1994,1995,1996,1997,1998,1999,2000,2001,2002,2003,2004,2005,2006,2007,2008,2009,2010,2011,2012,2013,2014,2015,2016,2017,2018,2019,2020,2021,2022,2023,2024,2025,2026,2027],
                "format": "d", "labelOverlap": false, "labelFlush": false,
                "labelExpr": "datum.value % 5 === 0 ? datum.label : ''",
                "tickSize": {"condition": {"test": "datum.value % 5 === 0", "value": 6}, "value": 3},
                "gridOpacity": {"condition": {"test": "datum.value % 5 === 0", "value": 1}, "value": 0},
                "grid": true, "labelPadding": 3,
                "title": "Source: LSEG Datastream and © Yardeni Research and Bureau of Labor Statistics.",
                "titleAnchor": "start", "titleAlign": "left", "titleFont": "Liberation Sans", "titleFontWeight": "bold", "titleFontSize": 11, "titleColor": "black", "titlePadding": 6}},
            "x2": {"datum": 2000.9},
            "y": {"datum": 17.92, "type": "quantitative",
              "axis": {"orient": "left", "title": null,
                "values": [-4,-3.5,-3,-2.5,-2,-1.5,-1,-0.5,0,0.5,1,1.5,2,2.5,3,3.5,4,4.5,5,5.5,6,6.5,7,7.5,8,8.5,9,9.5,10,10.5,11,11.5,12,12.5,13,13.5,14,14.5,15,15.5,16,16.5,17,17.5,18],
                "format": "d", "labelOverlap": false,
                "labelExpr": "datum.value % 2 === 0 ? datum.label : ''",
                "tickSize": {"condition": {"test": "datum.value % 2 === 0", "value": 6}, "value": 3},
                "gridOpacity": {"condition": {"test": "datum.value % 2 === 0", "value": 1}, "value": 0},
                "grid": true, "labelPadding": 3}},
            "y2": {"datum": 15.81}
          }
        },
        {
          "data": {"values": [{}]},
          "mark": {"type": "text", "text": ["CONSUMER PRICE INDEX: HEADLINE & CORE LESS SHELTER", "(yearly percent change)"], "color": "white", "font": "Liberation Sans", "fontWeight": "bold", "fontSize": 16, "align": "center", "baseline": "top", "lineHeight": 21},
          "encoding": {
            "x": {"datum": 1984.5, "type": "quantitative",
              "axis": {"values": [1968,1969,1970,1971,1972,1973,1974,1975,1976,1977,1978,1979,1980,1981,1982,1983,1984,1985,1986,1987,1988,1989,1990,1991,1992,1993,1994,1995,1996,1997,1998,1999,2000,2001,2002,2003,2004,2005,2006,2007,2008,2009,2010,2011,2012,2013,2014,2015,2016,2017,2018,2019,2020,2021,2022,2023,2024,2025,2026,2027],
                "format": "d", "labelOverlap": false, "labelFlush": false,
                "labelExpr": "datum.value % 5 === 0 ? datum.label : ''",
                "tickSize": {"condition": {"test": "datum.value % 5 === 0", "value": 6}, "value": 3},
                "gridOpacity": {"condition": {"test": "datum.value % 5 === 0", "value": 1}, "value": 0},
                "grid": true, "labelPadding": 3,
                "title": "Source: LSEG Datastream and © Yardeni Research and Bureau of Labor Statistics.",
                "titleAnchor": "start", "titleAlign": "left", "titleFont": "Liberation Sans", "titleFontWeight": "bold", "titleFontSize": 11, "titleColor": "black", "titlePadding": 6}},
            "y": {"datum": 17.62, "type": "quantitative",
              "axis": {"orient": "left", "title": null,
                "values": [-4,-3.5,-3,-2.5,-2,-1.5,-1,-0.5,0,0.5,1,1.5,2,2.5,3,3.5,4,4.5,5,5.5,6,6.5,7,7.5,8,8.5,9,9.5,10,10.5,11,11.5,12,12.5,13,13.5,14,14.5,15,15.5,16,16.5,17,17.5,18],
                "format": "d", "labelOverlap": false,
                "labelExpr": "datum.value % 2 === 0 ? datum.label : ''",
                "tickSize": {"condition": {"test": "datum.value % 2 === 0", "value": 6}, "value": 3},
                "gridOpacity": {"condition": {"test": "datum.value % 2 === 0", "value": 1}, "value": 0},
                "grid": true, "labelPadding": 3}}
          }
        },
        {
          "data": {"values": [{}]},
          "mark": {"type": "rule", "color": "black", "strokeWidth": 1},
          "encoding": {"y": {"datum": 0, "type": "quantitative",
              "axis": {"orient": "left", "title": null,
                "values": [-4,-3.5,-3,-2.5,-2,-1.5,-1,-0.5,0,0.5,1,1.5,2,2.5,3,3.5,4,4.5,5,5.5,6,6.5,7,7.5,8,8.5,9,9.5,10,10.5,11,11.5,12,12.5,13,13.5,14,14.5,15,15.5,16,16.5,17,17.5,18],
                "format": "d", "labelOverlap": false,
                "labelExpr": "datum.value % 2 === 0 ? datum.label : ''",
                "tickSize": {"condition": {"test": "datum.value % 2 === 0", "value": 6}, "value": 3},
                "gridOpacity": {"condition": {"test": "datum.value % 2 === 0", "value": 1}, "value": 0},
                "grid": true, "labelPadding": 3}}}
        },
        {
          "data": {"name": "cpi"},
          "mark": {"type": "line", "strokeWidth": 2},
          "encoding": {
            "x": {"field": "t", "type": "quantitative",
              "axis": {"values": [1968,1969,1970,1971,1972,1973,1974,1975,1976,1977,1978,1979,1980,1981,1982,1983,1984,1985,1986,1987,1988,1989,1990,1991,1992,1993,1994,1995,1996,1997,1998,1999,2000,2001,2002,2003,2004,2005,2006,2007,2008,2009,2010,2011,2012,2013,2014,2015,2016,2017,2018,2019,2020,2021,2022,2023,2024,2025,2026,2027],
                "format": "d", "labelOverlap": false, "labelFlush": false,
                "labelExpr": "datum.value % 5 === 0 ? datum.label : ''",
                "tickSize": {"condition": {"test": "datum.value % 5 === 0", "value": 6}, "value": 3},
                "gridOpacity": {"condition": {"test": "datum.value % 5 === 0", "value": 1}, "value": 0},
                "grid": true, "labelPadding": 3,
                "title": "Source: LSEG Datastream and © Yardeni Research and Bureau of Labor Statistics.",
                "titleAnchor": "start", "titleAlign": "left", "titleFont": "Liberation Sans", "titleFontWeight": "bold", "titleFontSize": 11, "titleColor": "black", "titlePadding": 6}},
            "y": {"field": "v", "type": "quantitative", "scale": {"domain": [-4, 18], "nice": false, "zero": false},
              "axis": {"orient": "left", "title": null,
                "values": [-4,-3.5,-3,-2.5,-2,-1.5,-1,-0.5,0,0.5,1,1.5,2,2.5,3,3.5,4,4.5,5,5.5,6,6.5,7,7.5,8,8.5,9,9.5,10,10.5,11,11.5,12,12.5,13,13.5,14,14.5,15,15.5,16,16.5,17,17.5,18],
                "format": "d", "labelOverlap": false,
                "labelExpr": "datum.value % 2 === 0 ? datum.label : ''",
                "tickSize": {"condition": {"test": "datum.value % 2 === 0", "value": 6}, "value": 3},
                "gridOpacity": {"condition": {"test": "datum.value % 2 === 0", "value": 1}, "value": 0},
                "grid": true, "labelPadding": 3}},
            "color": {"field": "s", "type": "nominal",
              "scale": {"domain": ["CPI Less Shelter (Apr = 1.4)", "CPI Less Energy, Food & Shelter (Apr = 1.8)", "Recession"], "range": ["#1010ee", "#ee1111", "#d9d9d9"]},
              "legend": {"title": null, "orient": "none", "legendX": 2, "legendY": 51, "strokeColor": "black", "fillColor": "white", "padding": 3,
                "labelFont": "Liberation Sans", "labelFontWeight": "bold", "labelFontSize": 12.5, "labelColor": "black", "labelLimit": 500, "labelOffset": 11,
                "symbolType": "stroke", "symbolSize": 144, "symbolStrokeWidth": 2, "symbolOffset": 8, "rowPadding": 0,
                "encode": {
                  "legend": {"update": {"strokeWidth": {"value": 1.5}}},
                  "symbols": {"update": {
                    "shape": {"signal": "datum.value === 'Recession' ? 'M-2.3,-0.8H2.3V0.8H-2.3Z' : 'M-2.3,0H2.3'"},
                    "fill": {"signal": "datum.value === 'Recession' ? '#d9d9d9' : 'transparent'"},
                    "stroke": {"signal": "datum.value === 'Recession' ? 'transparent' : (datum.value === 'CPI Less Shelter (Apr = 1.4)' ? '#1010ee' : '#ee1111')"}
                  }}}}}
          }
        }
      ]
    },
    {
      "data": {"values": [{}]},
      "mark": {"type": "rule", "opacity": 0},
      "encoding": {
        "y": {"datum": 0, "type": "quantitative", "scale": {"domain": [-4, 18], "nice": false, "zero": false},
          "axis": {"orient": "right", "title": null,
            "values": [-4,-3.5,-3,-2.5,-2,-1.5,-1,-0.5,0,0.5,1,1.5,2,2.5,3,3.5,4,4.5,5,5.5,6,6.5,7,7.5,8,8.5,9,9.5,10,10.5,11,11.5,12,12.5,13,13.5,14,14.5,15,15.5,16,16.5,17,17.5,18],
            "format": "d",
            "labelOverlap": false,
            "labelExpr": "datum.value % 2 === 0 ? datum.label : ''",
            "tickSize": {"condition": {"test": "datum.value % 2 === 0", "value": 6}, "value": 3},
            "grid": false, "labelPadding": 3}}
      }
    }
  ],
  "resolve": {"scale": {"y": "independent"}}
}
